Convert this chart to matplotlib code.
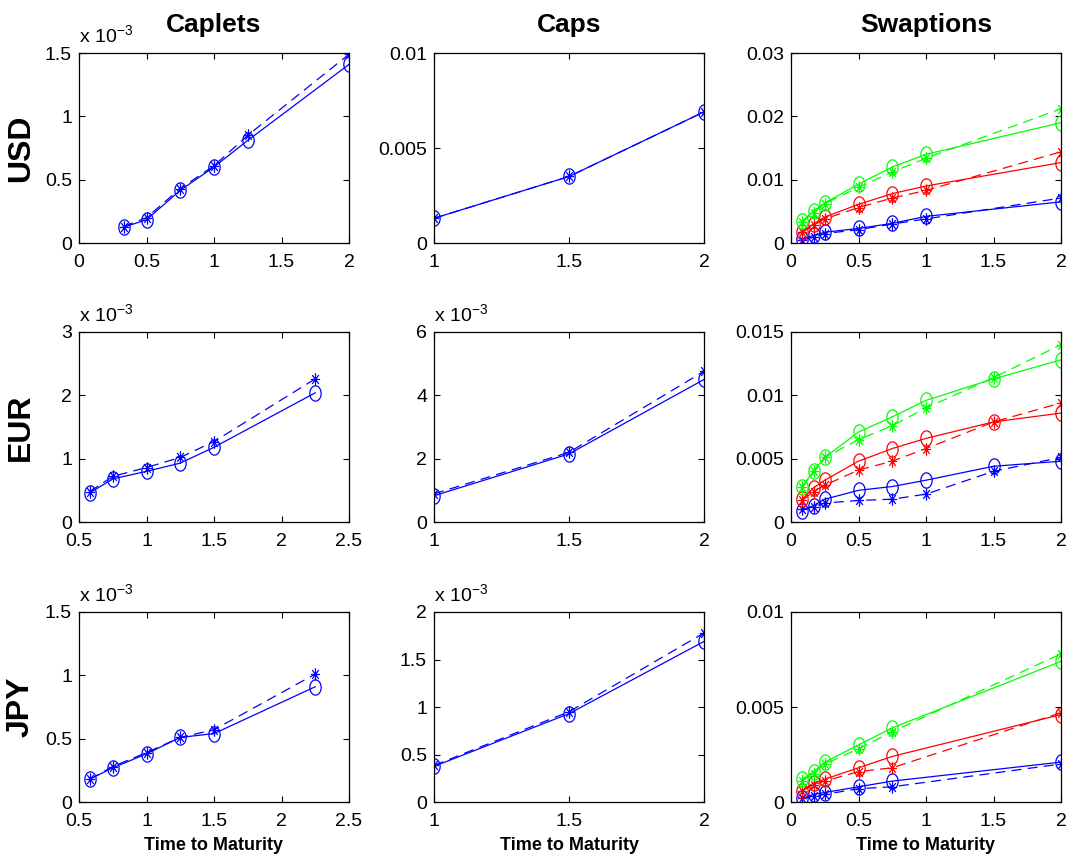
import matplotlib
matplotlib.use("Agg")
import matplotlib.pyplot as plt
from matplotlib.path import Path
import numpy as np

plt.rcParams['font.family'] = ['Liberation Sans', 'DejaVu Sans']
plt.rcParams['mathtext.fontset'] = 'custom'
plt.rcParams['mathtext.rm'] = 'Liberation Sans'
plt.rcParams['mathtext.it'] = 'Liberation Sans'

# ---------------- data ----------------
# Caplets (values in units of 1e-3)
usd_caplet_x = [0.33, 0.5, 0.75, 1.0, 1.25, 2.0]
usd_caplet_model = [0.124, 0.184, 0.416, 0.60, 0.81, 1.41]
usd_caplet_market = [0.13, 0.20, 0.43, 0.61, 0.85, 1.49]

eur_caplet_x = [0.58, 0.75, 1.0, 1.25, 1.5, 2.25]
eur_caplet_model = [0.46, 0.68, 0.80, 0.93, 1.18, 2.04]
eur_caplet_market = [0.48, 0.72, 0.86, 1.02, 1.27, 2.26]

jpy_caplet_x = [0.58, 0.75, 1.0, 1.25, 1.5, 2.25]
jpy_caplet_model = [0.18, 0.27, 0.38, 0.51, 0.54, 0.91]
jpy_caplet_market = [0.18, 0.28, 0.39, 0.51, 0.57, 1.01]

# Caps
caps_x = [1.0, 1.5, 2.0]
usd_caps_model = [0.0013, 0.0035, 0.0069]      # absolute
usd_caps_market = [0.0013, 0.0035, 0.0069]
eur_caps_model = [0.83, 2.15, 4.50]            # 1e-3
eur_caps_market = [0.89, 2.20, 4.76]
jpy_caps_model = [0.375, 0.93, 1.69]           # 1e-3
jpy_caps_market = [0.385, 0.95, 1.78]

# Swaptions (absolute values); three tenors per currency: blue, red, green
usd_swpt_x = [1/12, 2/12, 0.25, 0.5, 0.75, 1.0, 2.0]
usd_swpt_model_blue = [0.0006, 0.0012, 0.0017, 0.0023, 0.0031, 0.0042, 0.0065]
usd_swpt_market_blue = [0.0005, 0.0009, 0.0015, 0.0021, 0.0030, 0.0038, 0.0071]
usd_swpt_model_red = [0.0018, 0.0030, 0.0041, 0.0061, 0.0078, 0.0090, 0.0127]
usd_swpt_market_red = [0.0017, 0.0028, 0.0038, 0.0056, 0.0071, 0.0083, 0.0144]
usd_swpt_model_green = [0.0034, 0.0051, 0.0063, 0.0093, 0.0120, 0.0140, 0.0190]
usd_swpt_market_green = [0.0033, 0.0048, 0.0062, 0.0088, 0.0112, 0.0134, 0.0212]

eur_swpt_x = [1/12, 2/12, 0.25, 0.5, 0.75, 1.0, 1.5, 2.0]
eur_swpt_model_blue = [0.0009, 0.0013, 0.0018, 0.0025, 0.0028, 0.0033, 0.0044, 0.0048]
eur_swpt_market_blue = [0.0010, 0.0012, 0.0015, 0.0017, 0.0018, 0.0022, 0.0040, 0.0051]
eur_swpt_model_red = [0.0018, 0.0027, 0.0033, 0.0048, 0.0058, 0.0066, 0.0079, 0.0086]
eur_swpt_market_red = [0.0017, 0.0024, 0.0029, 0.0041, 0.0048, 0.0058, 0.0079, 0.0094]
eur_swpt_model_green = [0.0028, 0.0040, 0.0051, 0.0071, 0.0083, 0.0096, 0.0113, 0.0128]
eur_swpt_market_green = [0.0028, 0.0040, 0.0051, 0.0065, 0.0076, 0.0090, 0.0114, 0.0140]

jpy_swpt_x = [1/12, 2/12, 0.25, 0.5, 0.75, 2.0]
jpy_swpt_model_blue = [0.0002, 0.0004, 0.0005, 0.0008, 0.0011, 0.0021]
jpy_swpt_market_blue = [0.0002, 0.0003, 0.0004, 0.0007, 0.0008, 0.0020]
jpy_swpt_model_red = [0.0006, 0.0010, 0.0012, 0.0018, 0.0024, 0.0046]
jpy_swpt_market_red = [0.0006, 0.0009, 0.0011, 0.0016, 0.0018, 0.0047]
jpy_swpt_model_green = [0.0012, 0.0016, 0.0021, 0.0030, 0.0039, 0.0074]
jpy_swpt_market_green = [0.0011, 0.0015, 0.0020, 0.0028, 0.0037, 0.0078]

col_titles = ['Caplets', 'Caps', 'Swaptions']
row_labels = ['USD', 'EUR', 'JPY']
xlabel_text = 'Time to Maturity'

# ---------------- layout ----------------
W, H = 1071, 863
fig = plt.figure(figsize=(W / 100, H / 100), dpi=100)

col_lr = [(79, 349), (434, 704), (791, 1061)]
row_tb = [(53, 243), (332, 522), (612, 802)]

def make_ax(r, c):
    l, rr = col_lr[c]
    t, b = row_tb[r]
    return fig.add_axes([l / W, 1 - b / H, (rr - l) / W, (b - t) / H])

# slightly tall ellipse and asterisk markers (as in the reference image)
SX = 0.74
th = np.linspace(0, 2 * np.pi, 49)
ELLIPSE = Path(np.column_stack([SX * np.cos(th), np.sin(th)]), closed=True)
ast_v, ast_c = [], []
for a in np.arange(8) * np.pi / 4:
    ast_v += [(0, 0), (SX * np.sin(a), np.cos(a))]
    ast_c += [Path.MOVETO, Path.LINETO]
ASTER = Path(ast_v, ast_c)

def style(ax, xlim, xticks, xtl, ylim, yticks, ytl):
    ax.set_xlim(*xlim)
    ax.set_ylim(*ylim)
    ax.set_xticks(xticks)
    ax.set_xticklabels(xtl)
    ax.set_yticks(yticks)
    ax.set_yticklabels(ytl)
    ax.tick_params(direction='in', top=True, right=True, length=4, width=0.8,
                   labelsize=14)
    ax.tick_params(axis='x', pad=8)
    ax.tick_params(axis='y', pad=5)
    for s in ax.spines.values():
        s.set_linewidth(0.9)

def pair(ax, x, model, market, color):
    ax.plot(x, model, '-', color=color, lw=0.9, marker=ELLIPSE, ms=11,
            mfc='none', mec=color, mew=0.9)
    ax.plot(x, market, '--', color=color, lw=0.9, marker=ASTER, ms=9,
            mec=color, mew=0.9, dashes=(8, 5))

def exp_label(ax):
    ax.text(0.0, 1.035, r'x 10$^{-3}$', transform=ax.transAxes, ha='left',
            va='bottom', fontsize=14)

blue, red, green = (0, 0, 1), (1, 0, 0), (0, 1, 0)

def title(ax, s):
    ax.set_title(s, fontsize=19, fontweight='bold', pad=15)

def xlab(ax):
    ax.set_xlabel(xlabel_text, fontsize=13, fontweight='bold', labelpad=5)

# Caplets
caplet_data = [
    (usd_caplet_x, usd_caplet_model, usd_caplet_market,
     (0, 2), [0, 0.5, 1, 1.5, 2], ['0', '0.5', '1', '1.5', '2'],
     (0, 1.5), [0, 0.5, 1, 1.5], ['0', '0.5', '1', '1.5']),
    (eur_caplet_x, eur_caplet_model, eur_caplet_market,
     (0.5, 2.5), [0.5, 1, 1.5, 2, 2.5], ['0.5', '1', '1.5', '2', '2.5'],
     (0, 3), [0, 1, 2, 3], ['0', '1', '2', '3']),
    (jpy_caplet_x, jpy_caplet_model, jpy_caplet_market,
     (0.5, 2.5), [0.5, 1, 1.5, 2, 2.5], ['0.5', '1', '1.5', '2', '2.5'],
     (0, 1.5), [0, 0.5, 1, 1.5], ['0', '0.5', '1', '1.5']),
]
for r, (x, m, k, xl, xt, xtl, yl, yt, ytl) in enumerate(caplet_data):
    ax = make_ax(r, 0)
    pair(ax, x, m, k, blue)
    style(ax, xl, xt, xtl, yl, yt, ytl)
    exp_label(ax)
    if r == 0:
        title(ax, col_titles[0])
    if r == 2:
        xlab(ax)
    ax.text(-0.215, 0.5, row_labels[r], transform=ax.transAxes, rotation=90,
            ha='center', va='center', fontsize=23, fontweight='bold')

# Caps
caps_data = [
    (usd_caps_model, usd_caps_market, (0, 0.01), [0, 0.005, 0.01], ['0', '0.005', '0.01'], False),
    (eur_caps_model, eur_caps_market, (0, 6), [0, 2, 4, 6], ['0', '2', '4', '6'], True),
    (jpy_caps_model, jpy_caps_market, (0, 2), [0, 0.5, 1, 1.5, 2], ['0', '0.5', '1', '1.5', '2'], True),
]
for r, (m, k, yl, yt, ytl, ex) in enumerate(caps_data):
    ax = make_ax(r, 1)
    pair(ax, caps_x, m, k, blue)
    style(ax, (1, 2), [1, 1.5, 2], ['1', '1.5', '2'], yl, yt, ytl)
    if ex:
        exp_label(ax)
    if r == 0:
        title(ax, col_titles[1])
    if r == 2:
        xlab(ax)

# Swaptions
swpt_data = [
    (usd_swpt_x, [(usd_swpt_model_blue, usd_swpt_market_blue),
                  (usd_swpt_model_red, usd_swpt_market_red),
                  (usd_swpt_model_green, usd_swpt_market_green)],
     (0, 0.03), [0, 0.01, 0.02, 0.03], ['0', '0.01', '0.02', '0.03']),
    (eur_swpt_x, [(eur_swpt_model_blue, eur_swpt_market_blue),
                  (eur_swpt_model_red, eur_swpt_market_red),
                  (eur_swpt_model_green, eur_swpt_market_green)],
     (0, 0.015), [0, 0.005, 0.01, 0.015], ['0', '0.005', '0.01', '0.015']),
    (jpy_swpt_x, [(jpy_swpt_model_blue, jpy_swpt_market_blue),
                  (jpy_swpt_model_red, jpy_swpt_market_red),
                  (jpy_swpt_model_green, jpy_swpt_market_green)],
     (0, 0.01), [0, 0.005, 0.01], ['0', '0.005', '0.01']),
]
for r, (x, series, yl, yt, ytl) in enumerate(swpt_data):
    ax = make_ax(r, 2)
    for (m, k), col in zip(series, [blue, red, green]):
        pair(ax, x, m, k, col)
    style(ax, (0, 2), [0, 0.5, 1, 1.5, 2], ['0', '0.5', '1', '1.5', '2'], yl, yt, ytl)
    if r == 0:
        title(ax, col_titles[2])
    if r == 2:
        xlab(ax)

fig.savefig('out.png', dpi=100)
